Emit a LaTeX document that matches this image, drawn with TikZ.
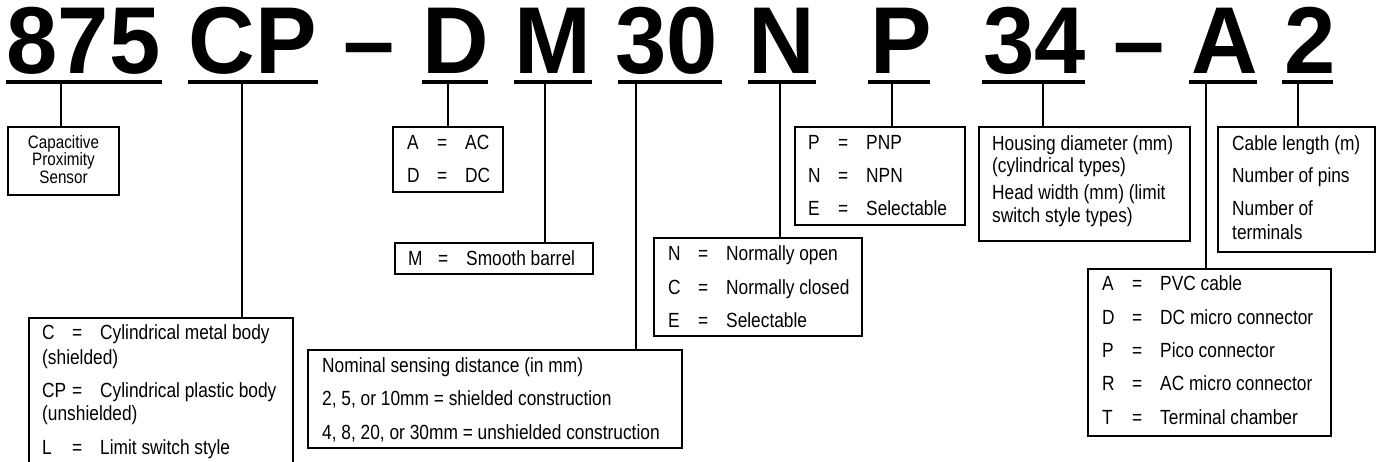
\documentclass[tikz,border=0pt]{standalone}
\usepackage{fontspec}
\setmainfont{Liberation Sans}[FakeStretch=0.845]
\newfontfamily\hdrfont{Liberation Sans}[FakeStretch=0.97]
\newcommand{\kvrow}[2]{\makebox[30pt][l]{#1}\makebox[28pt][l]{=}#2}
\begin{document}
\begin{tikzpicture}[x=1pt,y=-1pt,
  hdr/.style={font=\hdrfont\bfseries\fontsize{95}{95}\selectfont, inner sep=0, anchor=base},
  uline/.style={fill=black, inner sep=0, minimum height=4pt, outer sep=0},
  box/.style={draw, line width=2.4pt, inner sep=0, outer sep=0, anchor=north west},
  conn/.style={line width=2.4pt},
  txt/.style={font=\fontsize{20.5}{24}\selectfont, inner sep=0, anchor=base west},
  small/.style={font=\fontsize{18}{17.5}\selectfont, inner sep=0, align=center}]
\useasboundingbox (0,0) rectangle (1377,461);

% header groups
\node[hdr] (h1) at (83.5,73) {875};
\node[hdr] (h2) at (252.5,73) {CP};
\node[hdr] (h3) at (369,73) {–};
\node[hdr] (h4) at (456,73) {D};
\node[hdr] (h5) at (553,73) {M};
\node[hdr] (h6) at (667,73) {30};
\node[hdr] (h7) at (781.5,73) {N};
\node[hdr] (h8) at (901,73) {P};
\node[hdr] (h9) at (1034.5,73) {34};
\node[hdr] (h10) at (1139,73) {–};
\node[hdr] (h11) at (1224.5,73) {A};
\node[hdr] (h12) at (1310.5,73) {2};

% underlines
\node[uline, minimum width=156] (u1) at (84,82) {};
\node[uline, minimum width=130] (u2) at (253,82) {};
\node[uline, minimum width=66] (u3) at (455,82) {};
\node[uline, minimum width=78] (u4) at (553,82) {};
\node[uline, minimum width=104] (u5) at (670,82) {};
\node[uline, minimum width=68] (u6) at (782,82) {};
\node[uline, minimum width=62] (u7) at (899,82) {};
\node[uline, minimum width=103] (u8) at (1033.5,82) {};
\node[uline, minimum width=68] (u9) at (1223,82) {};
\node[uline, minimum width=51] (u10) at (1307.5,82) {};

% boxes
\node[box, minimum width=111, minimum height=68] (cap) at (8,127) {};
\node[small] (captxt) at (63.5,159.5) {Capacitive\\Proximity\\Sensor};

\node[box, minimum width=264, minimum height=160] (bc) at (29,318) {};
\node[txt] (bc1) at (42,339) {\kvrow{C}{Cylindrical metal body}};
\node[txt] (bc2) at (42,364) {(shielded)};
\node[txt] (bc3) at (42,397) {\kvrow{CP}{Cylindrical plastic body}};
\node[txt] (bc4) at (42,420) {(unshielded)};
\node[txt] (bc5) at (42,454) {\kvrow{L}{Limit switch style}};

\node[box, minimum width=110, minimum height=65] (bd) at (393,127) {};
\node[txt] (bd1) at (407,149) {\kvrow{A}{AC}};
\node[txt] (bd2) at (407,182) {\kvrow{D}{DC}};

\node[box, minimum width=198, minimum height=31] (bm) at (395,243) {};
\node[txt] (bm1) at (408,265) {\kvrow{M}{Smooth barrel}};

\node[box, minimum width=374, minimum height=98] (bs) at (308,350) {};
\node[txt] (bs1) at (322,372) {Nominal sensing distance (in mm)};
\node[txt] (bs2) at (322,405) {2, 5, or 10mm = shielded construction};
\node[txt] (bs3) at (322,439) {4, 8, 20, or 30mm = unshielded construction};

\node[box, minimum width=208, minimum height=98] (bn) at (654,238) {};
\node[txt] (bn1) at (668,260) {\kvrow{N}{Normally open}};
\node[txt] (bn2) at (668,294) {\kvrow{C}{Normally closed}};
\node[txt] (bn3) at (668,327) {\kvrow{E}{Selectable}};

\node[box, minimum width=170, minimum height=98] (bp) at (795,127) {};
\node[txt] (bp1) at (808,149) {\kvrow{P}{PNP}};
\node[txt] (bp2) at (808,182) {\kvrow{N}{NPN}};
\node[txt] (bp3) at (808,215) {\kvrow{E}{Selectable}};

\node[box, minimum width=211, minimum height=114] (bh) at (979,127) {};
\node[txt] (bh1) at (992,150) {Housing diameter (mm)};
\node[txt] (bh2) at (992,172) {(cylindrical types)};
\node[txt] (bh3) at (992,199) {Head width (mm) (limit};
\node[txt] (bh4) at (992,222) {switch style types)};

\node[box, minimum width=157, minimum height=125] (bl) at (1218,127) {};
\node[txt] (bl1) at (1232,150) {Cable length (m)};
\node[txt] (bl2) at (1232,182) {Number of pins};
\node[txt] (bl3) at (1232,215) {Number of};
\node[txt] (bl4) at (1232,239) {terminals};

\node[box, minimum width=243, minimum height=167] (ba) at (1088,269) {};
\node[txt] (ba1) at (1102,290) {\kvrow{A}{PVC cable}};
\node[txt] (ba2) at (1102,324) {\kvrow{D}{DC micro connector}};
\node[txt] (ba3) at (1102,357) {\kvrow{P}{Pico connector}};
\node[txt] (ba4) at (1102,390) {\kvrow{R}{AC micro connector}};
\node[txt] (ba5) at (1102,424) {\kvrow{T}{Terminal chamber}};

% connectors
\coordinate (k1) at (61,0);
\coordinate (k2) at (242,0);
\coordinate (k3) at (448,0);
\coordinate (k4) at (545,0);
\coordinate (k5) at (636,0);
\coordinate (k6) at (780,0);
\coordinate (k7) at (892,0);
\coordinate (k8) at (1043,0);
\coordinate (k9) at (1206,0);
\coordinate (k10) at (1298,0);
\draw[conn] (u1.south -| k1) -- (cap.north -| k1);
\draw[conn] (u2.south -| k2) -- (bc.north -| k2);
\draw[conn] (u3.south -| k3) -- (bd.north -| k3);
\draw[conn] (u4.south -| k4) -- (bm.north -| k4);
\draw[conn] (u5.south -| k5) -- (bs.north -| k5);
\draw[conn] (u6.south -| k6) -- (bn.north -| k6);
\draw[conn] (u7.south -| k7) -- (bp.north -| k7);
\draw[conn] (u8.south -| k8) -- (bh.north -| k8);
\draw[conn] (u9.south -| k9) -- (ba.north -| k9);
\draw[conn] (u10.south -| k10) -- (bl.north -| k10);
\end{tikzpicture}
\end{document}
